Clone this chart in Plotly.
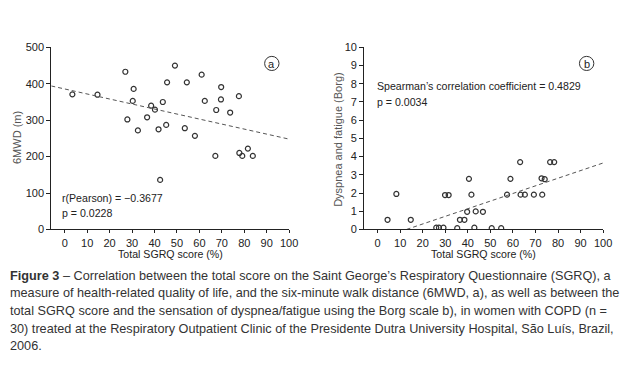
import plotly.graph_objects as go

W, H = 640, 382

# Panel a: SGRQ vs 6MWD
sgrq_a = [3.4, 14.6, 27.0, 27.9, 30.3, 30.7, 32.6, 36.7, 38.5, 40.2, 41.8, 42.5, 43.7,
          45.2, 45.6, 49.1, 53.5, 54.4, 58.0, 61.0, 62.4, 67.1, 67.5, 69.7, 69.6, 73.7,
          77.6, 77.8, 79.1, 81.6, 83.8]
mwd_a = [371, 370, 433, 302, 353, 386, 272, 308, 340, 329, 275, 136, 350,
         287, 404, 450, 278, 404, 257, 425, 353, 202, 328, 391, 357, 321,
         366, 210, 202, 222, 202]
fit_a_x = [-6, 100]
fit_a_y = [394, 248]

# Panel b: SGRQ vs Borg
sgrq_b = [4.4, 8.3, 14.7, 26.0, 27.2, 29.2, 29.9, 31.5, 35.3, 36.5, 38.5, 39.7, 40.5,
          41.6, 42.9, 43.5, 46.7, 50.6, 54.8, 57.4, 58.9, 63.2, 63.4, 65.3, 69.3, 72.7,
          73.0, 74.1, 76.5, 78.3]
borg_b = [0.53, 1.95, 0.53, 0.1, 0.1, 0.1, 1.89, 1.89, 0.07, 0.53, 0.53, 0.97, 2.78,
          1.91, 0.1, 0.99, 0.97, 0.07, 0.07, 1.91, 2.78, 3.70, 1.91, 1.91, 1.91, 2.81,
          1.91, 2.76, 3.70, 3.70]
fit_b_x = [12.8, 100]
fit_b_y = [0, 3.65]

x_ticks = [0, 10, 20, 30, 40, 50, 60, 70, 80, 90, 100]
ya_ticks = [0, 100, 200, 300, 400, 500]
yb_ticks = list(range(0, 11))

caption_lines = [
    "<b>Figure 3</b> – Correlation between the total score on the Saint George’s Respiratory Questionnaire (SGRQ), a",
    "measure of health-related quality of life, and the six-minute walk distance (6MWD, a), as well as between the",
    "total SGRQ score and the sensation of dyspnea/fatigue using the Borg scale b), in women with COPD (n =",
    "30) treated at the Respiratory Outpatient Clinic of the Presidente Dutra University Hospital, São Luís, Brazil,",
    "2006.",
]

FONT = "Liberation Sans"
MK = "#333333"

def px(x):
    return x / W

def py(y):
    return (H - y) / H

fig = go.Figure()
marker = dict(symbol="circle-open", size=5, color=MK, line=dict(width=1.2, color=MK))
fig.add_trace(go.Scatter(x=sgrq_a, y=mwd_a, mode="markers", marker=marker, xaxis="x", yaxis="y", showlegend=False))
fig.add_trace(go.Scatter(x=fit_a_x, y=fit_a_y, mode="lines", line=dict(color="#555555", width=1, dash="4px,3px"),
                         xaxis="x", yaxis="y", showlegend=False))
fig.add_trace(go.Scatter(x=sgrq_b, y=borg_b, mode="markers", marker=marker, xaxis="x2", yaxis="y2", showlegend=False))
fig.add_trace(go.Scatter(x=fit_b_x, y=fit_b_y, mode="lines", line=dict(color="#555555", width=1, dash="4px,3px"),
                         xaxis="x2", yaxis="y2", showlegend=False))

ydom = [py(230.7), py(42.7)]
axis_common = dict(showline=True, linecolor="#222222", linewidth=1, showgrid=False, zeroline=False,
                   tickfont=dict(family=FONT, size=11, color="#222222"),
                   ticks="outside", tickcolor="#222222")
fig.update_layout(
    width=W, height=H, margin=dict(l=0, r=0, t=0, b=0),
    paper_bgcolor="white", plot_bgcolor="white",
    xaxis=dict(domain=[px(52), px(293.3)], range=[-6, 100], tickvals=x_ticks, ticklen=3, anchor="y", **axis_common),
    yaxis=dict(domain=ydom, range=[0, 500], tickvals=ya_ticks, ticklen=4, anchor="x", **axis_common),
    xaxis2=dict(domain=[px(369.3), px(611.7)], range=[-6, 100], tickvals=x_ticks, ticklen=3, anchor="y2", **axis_common),
    yaxis2=dict(domain=ydom, range=[0, 10], tickvals=yb_ticks, ticklen=4, anchor="x2", **axis_common),
)

ann = []
tfont = dict(family=FONT, size=10.6, color="#222222")
sfont = dict(family=FONT, size=10.6, color="#222222")
gfont = dict(family=FONT, size=11, color="#555555")
# stats text
ann.append(dict(x=px(61), y=py(198.3), xref="paper", yref="paper", text="r(Pearson) = −0.3677", showarrow=False,
                xanchor="left", yanchor="middle", font=sfont))
ann.append(dict(x=px(61), y=py(213.3), xref="paper", yref="paper", text="p = 0.0228", showarrow=False,
                xanchor="left", yanchor="middle", font=sfont))
ann.append(dict(x=px(380), y=py(82.7), xref="paper", yref="paper", text="Spearman’s correlation coefficient = 0.4829",
                showarrow=False, xanchor="left", yanchor="middle", font=sfont))
ann.append(dict(x=px(380), y=py(98.7), xref="paper", yref="paper", text="p = 0.0034", showarrow=False,
                xanchor="left", yanchor="middle", font=sfont))
# axis titles
ann.append(dict(x=px(172.6), y=py(256.5), xref="paper", yref="paper", text="Total SGRQ score (%)", showarrow=False,
                xanchor="center", yanchor="middle", font=tfont))
ann.append(dict(x=px(490.5), y=py(256.5), xref="paper", yref="paper", text="Total SGRQ score (%)", showarrow=False,
                xanchor="center", yanchor="middle", font=tfont))
ann.append(dict(x=px(16.5), y=py(136), xref="paper", yref="paper", text="6MWD (m)", showarrow=False, textangle=-90,
                xanchor="center", yanchor="middle", font=gfont))
ann.append(dict(x=px(342), y=py(138), xref="paper", yref="paper", text="Dyspnea and fatigue (Borg)", showarrow=False,
                textangle=-90, xanchor="center", yanchor="middle", font=gfont))
# panel labels
for cx, lab in [(275.7, "a"), (595, "b")]:
    ann.append(dict(x=px(cx), y=py(59.8), xref="paper", yref="paper", text=lab, showarrow=False,
                    xanchor="center", yanchor="middle", font=dict(family=FONT, size=11, color="#222222")))
    fig.add_shape(type="circle", xref="paper", yref="paper", x0=px(cx - 7.3), x1=px(cx + 7.3),
                  y0=py(59.3 + 7.3), y1=py(59.3 - 7.3), line=dict(color="#333333", width=1))
# caption
cy = [278.3, 296.6, 314.9, 333.2, 351.5]
for t, y in zip(caption_lines, cy):
    ann.append(dict(x=px(8), y=py(y), xref="paper", yref="paper", text=t, showarrow=False,
                    xanchor="left", yanchor="middle", font=dict(family=FONT, size=12.7, color="#333333")))
fig.update_layout(annotations=ann)

fig.write_html("out.html", config={"displayModeBar": False},
               post_script="document.body.style.margin='0';document.body.style.overflow='hidden';")
